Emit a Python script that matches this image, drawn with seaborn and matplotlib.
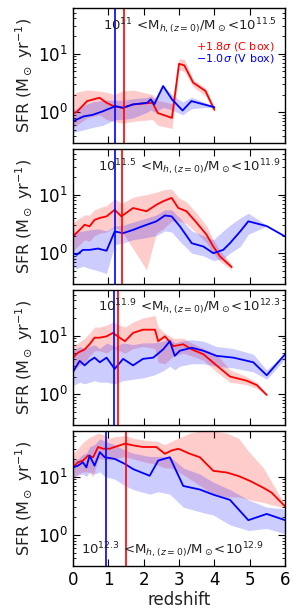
import numpy as np
import matplotlib
matplotlib.use("Agg")
import matplotlib.pyplot as plt
import seaborn as sns

# ---- panel 1: 10^11 - 10^11.5 ----
p1_red_z = [0, 0.1, 0.4, 0.75, 0.95, 1.15, 1.4, 1.7, 2.25, 2.4, 2.8, 3.0, 3.15, 3.4, 3.75, 4.0]
p1_red_sfr = [0.97, 1.0, 1.55, 1.77, 1.45, 1.27, 1.19, 1.36, 1.45, 0.97, 0.8, 6.7, 6.3, 3.2, 2.3, 1.1]
p1_red_lo = [0.55, 0.6, 0.8, 0.9, 0.75, 0.7, 0.65, 0.7, 0.75, 0.6, 0.53, 5.2, 5.0, 2.7, 1.9, 1.0]
p1_red_hi = [2.0, 2.2, 2.4, 2.3, 2.2, 2.0, 2.3, 2.4, 2.0, 1.6, 1.4, 8.2, 8.0, 3.6, 2.6, 1.2]
p1_blue_z = [0, 0.3, 0.55, 0.85, 1.2, 1.42, 1.7, 2.1, 2.2, 2.3, 2.55, 2.8, 3.1, 3.35, 3.7, 4.0]
p1_blue_sfr = [0.7, 0.85, 0.9, 1.04, 1.27, 1.19, 1.36, 1.45, 1.66, 1.36, 2.8, 1.66, 1.07, 1.55, 1.36, 1.22]
p1_blue_lo = [0.45, 0.5, 0.55, 0.6, 0.75, 0.75, 0.8, 1.0, 1.1, 1.0, 1.2, 1.1, 0.9, 1.15, 1.2, 1.2]
p1_blue_hi = [1.1, 1.3, 1.5, 1.6, 1.6, 1.6, 1.7, 1.8, 1.9, 1.7, 2.9, 2.0, 1.5, 1.8, 1.5, 1.25]

# ---- panel 2: 10^11.5 - 10^11.9 ----
p2_red_z = [0, 0.19, 0.33, 0.47, 0.61, 0.76, 0.95, 1.18, 1.37, 1.7, 2.08, 2.36, 2.55, 2.79, 2.98,
            3.21, 3.5, 3.78, 3.97, 4.16, 4.49]
p2_red_sfr = [1.93, 2.5, 3.06, 2.87, 3.7, 4.0, 4.25, 5.5, 4.25, 5.9, 5.2, 6.7, 7.7, 8.8, 5.9,
              5.2, 3.3, 2.06, 1.3, 0.88, 0.58]
p2_red_lo = [1.1, 1.4, 1.7, 1.6, 2.0, 2.2, 2.3, 2.8, 2.4, 1.2, 0.52, 2.2, 2.6, 3.5, 3.6,
             3.2, 2.2, 1.5, 1.0, 0.72, 0.52]
p2_red_hi = [3.3, 4.0, 4.5, 4.5, 5.5, 6.0, 6.5, 8.5, 7.0, 9.0, 10, 11, 12, 12.5, 9.0,
             7.5, 4.8, 2.9, 1.7, 1.1, 0.65]
p2_blue_z = [0, 0.11, 0.28, 0.47, 0.71, 0.95, 1.18, 1.42, 1.7, 1.98, 2.36, 2.6, 2.79, 3.02,
             3.36, 3.69, 3.97, 4.25, 4.44, 4.73, 4.96, 5.48, 6.0]
p2_blue_sfr = [1.0, 0.94, 1.14, 1.14, 1.2, 1.1, 2.35, 2.2, 2.5, 2.9, 3.5, 4.4, 4.25, 2.9,
               1.48, 1.3, 1.0, 1.14, 1.48, 2.35, 3.5, 2.9, 1.93]
p2_blue_lo = [0.6, 0.55, 0.6, 0.55, 0.5, 0.45, 1.4, 1.5, 1.7, 1.8, 2.0, 2.4, 2.3, 1.6,
              1.0, 0.9, 0.75, 0.8, 1.0, 1.3, 2.1, 2.9, 1.93]
p2_blue_hi = [2.4, 2.3, 2.4, 2.5, 2.6, 2.4, 2.9, 3.0, 3.4, 3.8, 4.5, 5.5, 5.5, 4.0,
              2.4, 2.0, 1.7, 2.4, 3.0, 4.0, 4.8, 3.0, 1.93]

# ---- panel 3: 10^11.9 - 10^12.3 ----
p3_red_z = [0, 0.14, 0.33, 0.47, 0.61, 0.76, 0.95, 1.13, 1.32, 1.47, 1.7, 1.98, 2.32, 2.41,
            2.6, 2.84, 3.12, 3.36, 3.69, 4.06, 4.44, 4.91, 5.2, 5.48]
p3_red_sfr = [4.2, 5.1, 5.8, 7.1, 9.2, 9.2, 9.7, 11.1, 9.2, 8.0, 11.1, 12.6, 12.6, 8.0,
              9.7, 6.6, 7.1, 5.8, 4.8, 3.1, 2.0, 1.7, 1.43, 0.97]
p3_red_lo = [2.4, 3.0, 3.4, 4.5, 5.5, 5.5, 5.0, 6.0, 5.5, 5.0, 6.0, 6.5, 6.0, 3.5,
             3.3, 4.5, 5.0, 4.5, 3.8, 2.4, 1.6, 1.45, 1.25, 0.95]
p3_red_hi = [6.6, 7.5, 9.0, 11, 14, 14, 15, 17, 15, 14, 17, 20, 22, 14,
             11, 9.0, 9.0, 7.5, 6.0, 4.8, 2.6, 2.0, 1.6, 1.0]
p3_blue_z = [0, 0.19, 0.33, 0.47, 0.61, 0.76, 0.95, 1.18, 1.42, 1.7, 1.98, 2.27, 2.55, 2.74,
             2.88, 3.02, 3.36, 3.69, 4.06, 4.54, 5.1, 5.48, 6.0]
p3_blue_sfr = [2.4, 3.7, 3.1, 3.7, 4.2, 3.5, 4.2, 2.7, 4.0, 3.1, 4.0, 4.2, 5.8, 8.0,
               4.5, 5.5, 6.2, 5.5, 4.5, 4.2, 3.5, 2.1, 4.8]
p3_blue_lo = [1.4, 1.6, 1.5, 1.6, 1.7, 1.6, 1.6, 1.5, 1.7, 1.8, 1.9, 2.1, 2.5, 3.0,
              2.6, 3.0, 3.3, 3.3, 3.0, 2.8, 2.4, 1.8, 4.0]
p3_blue_hi = [5.5, 6.5, 6.0, 6.5, 7.0, 6.0, 7.5, 6.5, 7.5, 7.0, 7.5, 7.5, 8.0, 9.0,
              7.5, 8.0, 8.5, 8.0, 6.5, 6.0, 4.8, 2.6, 5.0]

# ---- panel 4: 10^12.3 - 10^12.9 ----
p4_red_z = [0, 0.14, 0.28, 0.43, 0.57, 0.71, 0.85, 1.04, 1.18, 1.47, 1.7, 1.98, 2.36, 2.6,
            2.79, 2.98, 3.31, 3.59, 3.97, 4.35, 4.68, 5.01, 5.39, 5.62, 6.0]
p4_red_sfr = [14.3, 17.5, 18.7, 22.8, 21.3, 31.9, 29.8, 29.8, 31.9, 36.4, 34, 31.9, 31.9, 24.4,
              27.8, 29.8, 24.4, 21.3, 12.5, 11.7, 10.2, 8.4, 6.4, 5.3, 3.1]
p4_red_lo = [9, 11, 12, 12, 10, 20, 20, 19, 20, 22, 20, 18, 16, 14,
             14, 12, 9, 7, 5, 4.5, 4.5, 4, 3.6, 3.3, 2.9]
p4_red_hi = [24, 30, 38, 45, 50, 55, 52, 45, 48, 50, 45, 42, 40, 35,
             40, 45, 55, 60, 60, 55, 45, 25, 14, 8, 3.3]
p4_blue_z = [0, 0.14, 0.28, 0.38, 0.47, 0.61, 0.76, 0.9, 1.18, 1.47, 1.7, 2.17, 2.41, 2.74,
             3.12, 3.59, 3.97, 4.44, 4.96, 5.48, 6.0]
p4_blue_sfr = [14.3, 15.3, 17.5, 14.3, 22.8, 15.3, 26, 21.3, 20, 16.4, 13.4, 10.3, 18.7, 21.3,
               6.9, 6.0, 4.9, 4.0, 1.8, 2.3, 1.8]
p4_blue_lo = [10, 10.5, 11, 10, 12, 11, 12, 10, 9, 7, 6, 5, 5.5, 5,
              3, 2.5, 2.2, 1.5, 1.2, 1.3, 1.05]
p4_blue_hi = [19, 20, 24, 25, 32, 35, 44, 40, 35, 28, 25, 22, 22, 22,
              14, 11, 8, 6, 4, 3, 2.8]

# formation redshift markers (red = C box, blue = V box)
zred_marks = [1.43, 1.40, 1.28, 1.50]
zblue_marks = [1.19, 1.19, 1.17, 0.93]

mass_bins = [("11", "11.5"), ("11.5", "11.9"), ("11.9", "12.3"), ("12.3", "12.9")]

panels = [
    (p1_red_z, p1_red_sfr, p1_red_lo, p1_red_hi, p1_blue_z, p1_blue_sfr, p1_blue_lo, p1_blue_hi),
    (p2_red_z, p2_red_sfr, p2_red_lo, p2_red_hi, p2_blue_z, p2_blue_sfr, p2_blue_lo, p2_blue_hi),
    (p3_red_z, p3_red_sfr, p3_red_lo, p3_red_hi, p3_blue_z, p3_blue_sfr, p3_blue_lo, p3_blue_hi),
    (p4_red_z, p4_red_sfr, p4_red_lo, p4_red_hi, p4_blue_z, p4_blue_sfr, p4_blue_lo, p4_blue_hi),
]

sns.set_style("ticks")
plt.rcParams.update({
    "font.family": ["DejaVu Sans"],
    "xtick.direction": "in", "ytick.direction": "in",
    "xtick.top": True, "ytick.right": True,
    "xtick.minor.visible": False,
    "axes.linewidth": 1.0,
    "axes.edgecolor": "black",
    "xtick.color": "black", "ytick.color": "black",
    "text.color": "#222222", "axes.labelcolor": "#222222",
})

fig, axes = plt.subplots(4, 1, figsize=(2.93, 6.15), dpi=100, sharex=True)
fig.subplots_adjust(left=0.249, right=0.973, top=0.987, bottom=0.080, hspace=0.045)

for i, ax in enumerate(axes):
    rz, rs, rlo, rhi, bz, bs, blo, bhi = panels[i]
    ax.fill_between(rz, rlo, rhi, color="red", alpha=0.2, lw=0)
    ax.fill_between(bz, blo, bhi, color="blue", alpha=0.2, lw=0)
    sns.lineplot(x=rz, y=rs, color="red", lw=1.3, ax=ax, sort=False)
    sns.lineplot(x=bz, y=bs, color="blue", lw=1.3, ax=ax, sort=False)
    ax.axvline(zblue_marks[i], color="blue", lw=1.2)
    ax.axvline(zred_marks[i], color="red", lw=1.2)

    ax.set_yscale("log")
    ax.set_ylim(0.3, 60)
    ax.set_xlim(0, 6)
    ax.set_xticks(range(7))
    ax.tick_params(which="major", length=5, width=0.8, labelsize=12)
    ax.tick_params(which="minor", length=2.5, width=0.6)
    ax.set_ylabel(r"SFR (M$_\odot$ yr$^{-1}$)", fontsize=11.5, labelpad=2)

    lo, hi = mass_bins[i]
    label = r"$10^{%s}$ <M$_{h,(z=0)}$/M$_\odot$<$10^{%s}$" % (lo, hi)
    if i < 3:
        ax.text(0.55, 0.87, label, transform=ax.transAxes, ha="center", va="center",
                fontsize=9.5)
    else:
        ax.text(0.47, 0.12, label, transform=ax.transAxes, ha="center", va="center",
                fontsize=9.5)

axes[0].text(0.95, 0.715, r"$+1.8\sigma$ (C box)", transform=axes[0].transAxes,
             ha="right", va="center", color="red", fontsize=8)
axes[0].text(0.95, 0.625, r"$-1.0\sigma$ (V box)", transform=axes[0].transAxes,
             ha="right", va="center", color="blue", fontsize=8)

axes[-1].set_xlabel("redshift", fontsize=12, labelpad=2)

fig.savefig("out.png", dpi=100)
